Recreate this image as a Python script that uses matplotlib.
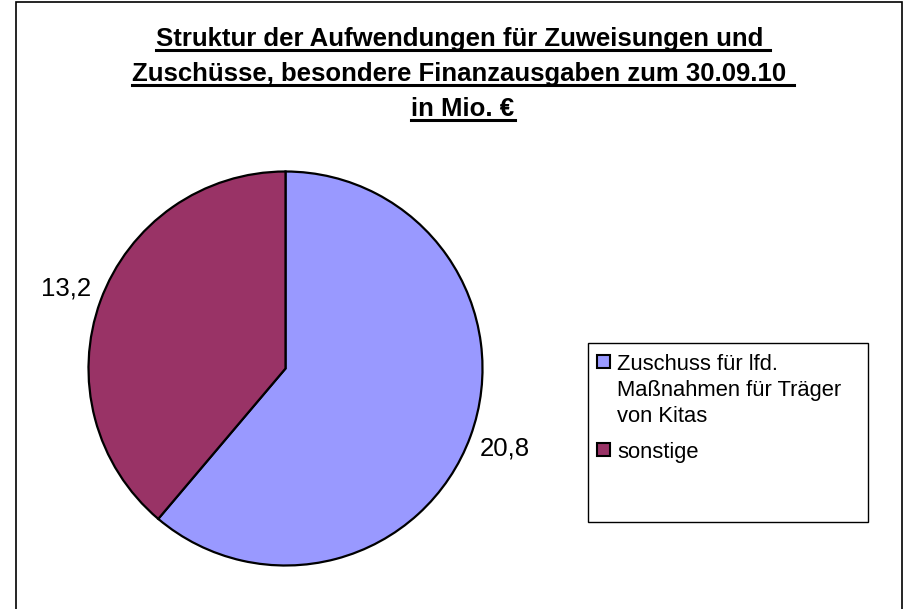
import matplotlib.pyplot as plt
from matplotlib.patches import Rectangle
import numpy as np

plt.rcParams['font.family'] = ['Liberation Sans', 'DejaVu Sans']

labels = ['Zuschuss für lfd.\nMaßnahmen für Träger\nvon Kitas', 'sonstige']
values = [20.8, 13.2]
value_text = ['20,8', '13,2']
colors = ['#9999FF', '#993366']

W, H = 905, 609
fig = plt.figure(figsize=(W / 100, H / 100), dpi=100)

def fx(px):
    return px / W

def fy(py):
    return 1 - py / H

# outer chart border (bottom edge runs off the image)
fig.patches.append(Rectangle((fx(16), fy(620)), fx(902) - fx(16), fy(2) - fy(620),
                             transform=fig.transFigure, fill=False, edgecolor='black', lw=1.2))

title = ('Struktur der Aufwendungen für Zuweisungen und \n'
         'Zuschüsse, besondere Finanzausgaben zum 30.09.10 \n'
         'in Mio. €')
title_texts = []
for i, ln in enumerate(title.split('\n')):
    t = fig.text(fx(463), fy(46 + i * 35), ln, ha='center', va='baseline',
                 fontsize=18.5, fontweight='bold')
    title_texts.append(t)

# underline each title line
fig.canvas.draw()
r = fig.canvas.get_renderer()
for i, t in enumerate(title_texts):
    bb = t.get_window_extent(r)
    y = fy(46 + i * 35 + 4)
    fig.add_artist(plt.Line2D([bb.x0 / W, bb.x1 / W], [y, y],
                              transform=fig.transFigure, color='black', lw=2.2))

# pie
cx, cy, rad = 285.5, 368.5, 197
ax = fig.add_axes([fx(cx - rad), fy(cy + rad), 2 * rad / W, 2 * rad / H])
wedges, _ = ax.pie(values, colors=colors, startangle=90, counterclock=False,
                   wedgeprops=dict(edgecolor='black', linewidth=1.6))
ax.set_xlim(-1, 1)
ax.set_ylim(-1, 1)
ax.set_aspect('auto')
for w, s in zip(wedges, value_text):
    ang = np.deg2rad((w.theta1 + w.theta2) / 2)
    ax.text(1.185 * np.cos(ang), 1.185 * np.sin(ang), s, ha='center', va='center',
            fontsize=18.5)

# legend box (drawn by hand so the key sits at the first text line)
fig.patches.append(Rectangle((fx(588), fy(522)), fx(868) - fx(588), fy(343) - fy(522),
                             transform=fig.transFigure, fill=False, edgecolor='black', lw=1))
base = 370
for lab, col in zip(labels, colors):
    fig.patches.append(Rectangle((fx(597), fy(base - 2)), 13 / W, 13 / H,
                                 transform=fig.transFigure, facecolor=col,
                                 edgecolor='black', lw=1.5))
    for j, part in enumerate(lab.split('\n')):
        fig.text(fx(617), fy(base + j * 26), part, ha='left', va='baseline', fontsize=15.8)
    base += (len(lab.split('\n')) - 1) * 26 + 36

fig.savefig('out.png', dpi=100)
